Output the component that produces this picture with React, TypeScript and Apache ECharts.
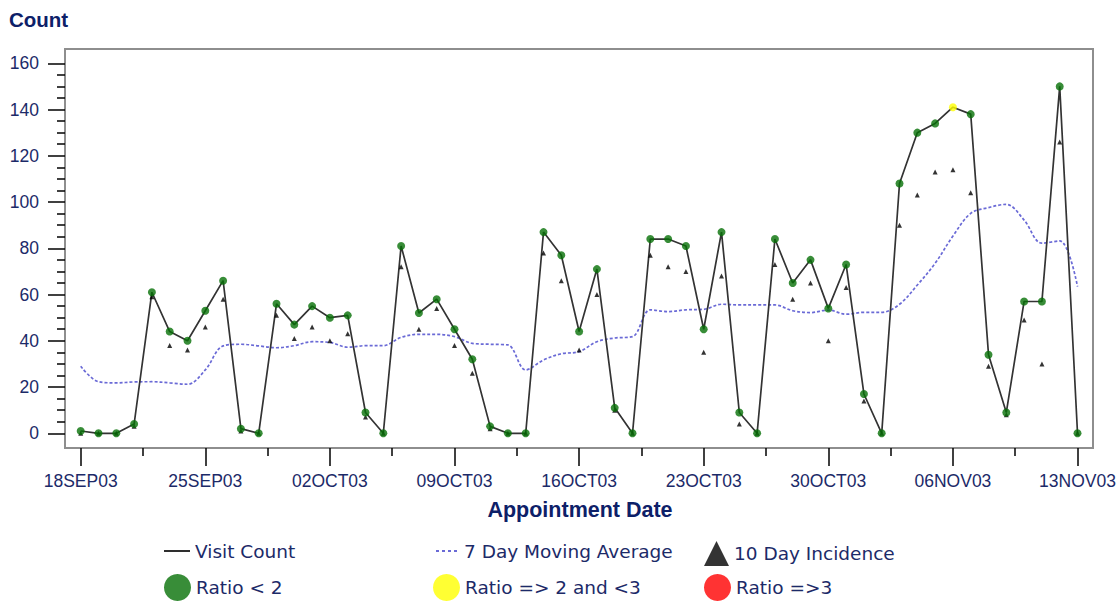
import React, { useEffect, useRef } from "react";
import * as echarts from "echarts";

// Day 0 = 18SEP03, one value per day up to 13NOV03 (day 56)
const START_YEAR = 2003;
const START_MONTH = 8; // September (0-based)
const START_DAY = 18;
const MONTHS = ["JAN", "FEB", "MAR", "APR", "MAY", "JUN", "JUL", "AUG", "SEP", "OCT", "NOV", "DEC"];

const visitCount = [
  1, 0, 0, 4, 61, 44, 40, 53, 66, 2, 0, 56, 47, 55, 50, 51, 9, 0, 81, 52, 58, 45, 32, 3, 0, 0, 87, 77, 44,
  71, 11, 0, 84, 84, 81, 45, 87, 9, 0, 84, 65, 75, 54, 73, 17, 0, 108, 130, 134, 141, 138, 34, 9, 57, 57,
  150, 0,
];

const incidence10Day = [
  0, 0, 0, 3, 59, 38, 36, 46, 58, 1, 0, 51, 41, 46, 40, 43, 7, 0, 72, 45, 54, 38, 26, 2, 0, 0, 78, 66, 36,
  60, 10, 0, 77, 72, 70, 35, 68, 4, 0, 73, 58, 65, 40, 63, 14, 0, 90, 103, 113, 114, 104, 29, 8, 49, 30,
  126, 0,
];

const movingAvg7Day = [
  29, 22.3, 21.8, 22.2, 22.3, 21.8, 21.2, 27.4, 37.8, 38.5, 37.8, 37, 37.9, 39.6, 39.3, 37.2, 37.9, 37.9,
  41.5, 42.8, 42.8, 41.8, 38.9, 38.5, 38.2, 27.4, 31.7, 34.4, 35.3, 39.6, 41.2, 41.8, 53.4, 52.6, 53.4,
  53.6, 55.8, 55.5, 55.5, 55.5, 53, 52.2, 53.3, 51.5, 52.3, 52.3, 55.8, 64.1, 73.5, 85.3, 95.1, 97.6, 99,
  92.2, 82.2, 83.2, 63.4,
];

// ratio class per day: 0 = "Ratio < 2", 1 = "Ratio => 2 and <3", 2 = "Ratio =>3"
const ratioClass = [
  0, 0, 0, 0, 0, 0, 0, 0, 0, 0, 0, 0, 0, 0, 0, 0, 0, 0, 0, 0, 0, 0, 0, 0, 0, 0, 0, 0, 0, 0, 0, 0, 0, 0, 0,
  0, 0, 0, 0, 0, 0, 0, 0, 0, 0, 0, 0, 0, 0, 1, 0, 0, 0, 0, 0, 0, 0,
];

const ratioNames = ["Ratio < 2", "Ratio => 2 and <3", "Ratio =>3"];
const ratioColors = ["#067006", "#ffff00", "#ff0000"];

// tick positions (days since 18SEP03, counts)
const xMajorTicks = [0, 7, 14, 21, 28, 35, 42, 49, 56];
const xMinorTicks = [3.5, 10.5, 17.5, 24.5, 31.5, 38.5, 45.5, 52.5];
const yMajorTicks = [0, 20, 40, 60, 80, 100, 120, 140, 160];
const yMinorTicks = [
  5, 10, 15, 25, 30, 35, 45, 50, 55, 65, 70, 75, 85, 90, 95, 105, 110, 115, 125, 130, 135, 145, 150, 155,
];

// frame extents (axis ranges so that the frame sits outside the data)
const X_RANGE = [-0.882, 56.87];
const Y_RANGE = [-6.36, 166.18];

function fmtDate(v: number) {
  const d = new Date(Date.UTC(START_YEAR, START_MONTH, START_DAY + Math.round(v)));
  const dd = String(d.getUTCDate()).padStart(2, "0");
  const yy = String(d.getUTCFullYear() % 100).padStart(2, "0");
  return dd + MONTHS[d.getUTCMonth()] + yy;
}

const TEXT = "#1c2a68";
const TITLE = "#0d2068";
const TICK = { color: "#000", width: 1.5 };

export default function App() {
  const ref = useRef<HTMLDivElement>(null);
  useEffect(() => {
    if (!ref.current) return;
    const chart = echarts.init(ref.current, undefined, { renderer: "svg" });
    const pts = (arr: number[]) => arr.map((v, i) => [i, v]);
    const legendText = { color: TEXT, fontSize: 18.5, fontFamily: "DejaVu Sans", lineHeight: 22 };
    const legendBase = { orient: "horizontal", padding: 0, selectedMode: false, textStyle: legendText };
    const axisCommon = {
      type: "value",
      axisLine: { show: false, onZero: false },
      splitLine: { show: false },
    };

    chart.setOption({
      animation: false,
      grid: {
        left: 65,
        right: 26,
        top: 49,
        bottom: 153,
        show: true,
        borderColor: "#8e8e8e",
        borderWidth: 2,
        backgroundColor: "transparent",
      },
      xAxis: [
        {
          ...axisCommon,
          min: X_RANGE[0],
          max: X_RANGE[1],
          position: "bottom",
          axisTick: { show: true, inside: false, length: 18, customValues: xMajorTicks, lineStyle: TICK },
          axisLabel: {
            customValues: xMajorTicks,
            margin: 24,
            color: TEXT,
            fontSize: 17.5,
            fontFamily: "Liberation Sans",
            formatter: fmtDate,
          },
        },
        {
          ...axisCommon,
          min: X_RANGE[0],
          max: X_RANGE[1],
          position: "bottom",
          axisTick: { show: true, inside: false, length: 8, customValues: xMinorTicks, lineStyle: TICK },
          axisLabel: { show: false },
        },
      ],
      yAxis: [
        {
          ...axisCommon,
          min: Y_RANGE[0],
          max: Y_RANGE[1],
          position: "left",
          axisTick: { show: true, inside: false, length: 17, customValues: yMajorTicks, lineStyle: TICK },
          axisLabel: {
            customValues: yMajorTicks,
            margin: 26,
            color: TEXT,
            fontSize: 17.5,
            fontFamily: "Liberation Sans",
          },
        },
        {
          ...axisCommon,
          min: Y_RANGE[0],
          max: Y_RANGE[1],
          position: "left",
          axisTick: { show: true, inside: false, length: 8, customValues: yMinorTicks, lineStyle: TICK },
          axisLabel: { show: false },
        },
      ],
      graphic: [
        {
          type: "text",
          x: 9,
          y: 19,
          style: {
            text: "Count",
            fill: TITLE,
            fontSize: 20.5,
            fontWeight: "bold",
            fontFamily: "Liberation Sans",
            verticalAlign: "middle",
          },
        },
        {
          type: "text",
          x: 580,
          y: 510,
          style: {
            text: "Appointment Date",
            fill: TITLE,
            fontSize: 21.5,
            fontWeight: "bold",
            fontFamily: "Liberation Sans",
            align: "center",
            verticalAlign: "middle",
          },
        },
      ],
      legend: [
        {
          ...legendBase,
          data: ["Visit Count"],
          left: 164,
          top: 540,
          icon: "path://M0,0H26V2H0Z",
          itemWidth: 26,
          itemHeight: 2,
        },
        {
          ...legendBase,
          data: ["7 Day Moving Average"],
          left: 436,
          top: 540,
          icon: "path://M0,0H3V2H0Z M6,0H9V2H6Z M12,0H15V2H12Z M18,0H21V2H18Z",
          itemWidth: 25,
          itemHeight: 2,
        },
        {
          ...legendBase,
          data: ["10 Day Incidence"],
          left: 704,
          top: 541,
          icon: "triangle",
          itemWidth: 25,
          itemHeight: 25,
        },
        ...ratioNames.map((name, k) => ({
          ...legendBase,
          data: [name],
          left: [164, 433, 704][k],
          top: 574,
          icon: "circle",
          itemWidth: 27,
          itemHeight: 27,
        })),
      ],
      series: [
        {
          name: "7 Day Moving Average",
          type: "line",
          data: pts(movingAvg7Day),
          smooth: 0.35,
          symbol: "none",
          color: "#6a6ad6",
          lineStyle: { color: "#6a6ad6", width: 1.7, type: [3, 2] },
          z: 2,
        },
        {
          name: "Visit Count",
          type: "line",
          data: pts(visitCount),
          symbol: "none",
          color: "#2e2e2e",
          lineStyle: { color: "#333333", width: 1.7 },
          z: 3,
        },
        {
          name: "10 Day Incidence",
          type: "scatter",
          data: pts(incidence10Day),
          symbol: "triangle",
          symbolSize: 5,
          color: "#000",
          z: 4,
        },
        ...ratioNames.map((name, k) => ({
          name,
          type: "scatter",
          data: visitCount.map((v, i) => [i, v]).filter((_, i) => ratioClass[i] === k),
          symbol: "circle",
          symbolSize: 8,
          color: ratioColors[k],
          z: 5,
        })),
      ],
    });
    return () => chart.dispose();
  }, []);

  return (
    <div
      ref={ref}
      style={{ position: "fixed", left: 0, top: 0, width: 1119, height: 601, background: "#fff" }}
    />
  );
}
